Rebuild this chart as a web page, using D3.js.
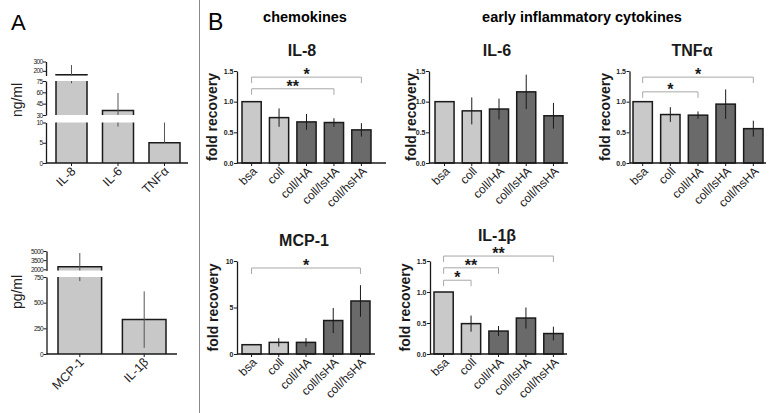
<!DOCTYPE html>
<html><head><meta charset="utf-8">
<script src="https://cdn.jsdelivr.net/npm/d3@7"></script>
<style>
body{margin:0;background:#fff;}
svg{display:block;font-family:"Liberation Sans",Arial,Helvetica,sans-serif;}
</style></head>
<body><svg id="c" width="780" height="413"></svg>
<script>
// ---------- DATA ----------
// Panel A (absolute concentrations)
const aTopCategories = ["IL-8", "IL-6", "TNFα"];
const aTopValues = [157, 36, 5];
const aTopErrHi = [105, 23, 5];
const aTopErrLo = [85, 27, 0];
const aTopTickLabels = [[200, 300], [30, 45, 60, 75], [0, 5, 10]];

const aBotCategories = ["MCP-1", "IL-1β"];
const aBotValues = [2400, 335];
const aBotErrHi = [2270, 275];
const aBotErrLo = [1690, 275];
const aBotTickLabels = [[2000, 3500, 5000], [0, 250, 500, 750]];

// Panel B (fold recovery)
const bCategories = ["bsa", "coll", "coll/HA", "coll/lsHA", "coll/hsHA"];
const il8Values = [1.0, 0.74, 0.67, 0.66, 0.54];
const il8Errors = [0, 0.15, 0.13, 0.07, 0.11];
const il6Values = [1.0, 0.85, 0.88, 1.16, 0.77];
const il6Errors = [0, 0.22, 0.17, 0.28, 0.21];
const tnfValues = [1.0, 0.79, 0.78, 0.96, 0.56];
const tnfErrors = [0, 0.12, 0.06, 0.24, 0.13];
const mcpValues = [1.0, 1.25, 1.25, 3.6, 5.7];
const mcpErrors = [0, 0.45, 0.45, 1.35, 1.7];
const il1bValues = [1.0, 0.49, 0.37, 0.58, 0.33];
const il1bErrors = [0, 0.13, 0.08, 0.17, 0.11];
const foldTicks = [0, 0.5, 1.0, 1.5];
const mcpTicks = [0, 5, 10];
// significance brackets: [fromIndex, toIndex, level, label]
const il8Sig = [[0, 4, 1.40, "*"], [0, 3, 1.21, "**"]];
const tnfSig = [[0, 4, 1.40, "*"], [0, 2, 1.16, "*"]];
const mcpSig = [[0, 4, 9.25, "*"]];
const il1bSig = [[0, 4, 1.58, "**"], [0, 2, 1.39, "**"], [0, 1, 1.19, "*"]];

// ---------- DRAW ----------
const svg = d3.select("#c");
const ink = "#1a1a1a";

svg.append("line").attr("x1", 199.5).attr("x2", 199.5).attr("y1", 0).attr("y2", 413)
  .attr("stroke", "#8a8a8a").attr("stroke-width", 1);

svg.append("text").attr("x", 11).attr("y", 30).attr("font-size", 22).text("A");
svg.append("text").attr("x", 208).attr("y", 30).attr("font-size", 23).text("B");
svg.append("text").attr("x", 305).attr("y", 22).attr("text-anchor", "middle")
  .attr("font-size", 14.5).attr("font-weight", "bold").text("chemokines");
svg.append("text").attr("x", 582).attr("y", 22).attr("text-anchor", "middle")
  .attr("font-size", 14.5).attr("font-weight", "bold").text("early inflammatory cytokines");

// ----- Panel A broken-axis charts -----
function brokenChart(cfg) {
  const g = svg.append("g");
  const x = d3.scaleBand().domain(cfg.categories).range(cfg.xRange).paddingInner(cfg.pad);
  const segs = cfg.segments.map((s, i) => ({
    y: d3.scaleLinear().domain(s.domain).range(s.range), dom: s.domain, ticks: cfg.tickLabels[i]
  }));
  segs.forEach(s => {
    const ax = g.append("g").attr("transform", `translate(${cfg.axisX},0)`)
      .call(d3.axisLeft(s.y).tickValues(s.ticks).tickSize(3).tickSizeOuter(0).tickFormat(d3.format("d")));
    ax.select(".domain").attr("stroke", ink).attr("stroke-width", 1.3);
    ax.selectAll(".tick line").attr("stroke", ink).attr("stroke-width", 1);
    ax.selectAll(".tick text").attr("font-size", 6.5).attr("letter-spacing", -0.6)
      .attr("x", -3.5).attr("fill", ink);
  });
  cfg.values.forEach((v, i) => {
    const x0 = x(cfg.categories[i]), w = x.bandwidth();
    segs.forEach(s => {
      const lo = s.dom[0], hi = s.dom[1];
      if (v <= lo) return;
      const top = Math.min(v, hi);
      const yT = s.y(top), yB = s.y(lo);
      g.append("rect").attr("x", x0).attr("y", yT).attr("width", w).attr("height", Math.max(0, yB - yT))
        .attr("fill", "#c8c8c8");
      const path = d3.path();
      path.moveTo(x0, yB); path.lineTo(x0, yT);
      if (v <= hi) path.lineTo(x0 + w, yT); else path.moveTo(x0 + w, yT);
      path.lineTo(x0 + w, yB);
      g.append("path").attr("d", path.toString()).attr("fill", "none").attr("stroke", ink).attr("stroke-width", 1.5);
    });
    const eHi = v + cfg.errHi[i], eLo = v - cfg.errLo[i];
    const cx = x0 + w / 2;
    segs.forEach(s => {
      const a = Math.max(eLo, s.dom[0]), b = Math.min(eHi, s.dom[1]);
      if (b <= a) return;
      g.append("line").attr("x1", cx).attr("x2", cx).attr("y1", s.y(a)).attr("y2", s.y(b))
        .attr("stroke", "#555").attr("stroke-width", 1);
    });
  });
  const base = segs[segs.length - 1].y(0);
  g.append("line").attr("x1", cfg.axisX).attr("x2", cfg.axisEnd).attr("y1", base).attr("y2", base)
    .attr("stroke", ink).attr("stroke-width", 1.5);
  cfg.categories.forEach(c => {
    const cx = x(c) + x.bandwidth() / 2;
    g.append("line").attr("x1", cx).attr("x2", cx).attr("y1", base).attr("y2", base + 3)
      .attr("stroke", ink).attr("stroke-width", 1);
    g.append("text").attr("transform", `translate(${cx + 5},${base + 9}) rotate(-45)`)
      .attr("text-anchor", "end").attr("font-size", 12.5).attr("fill", "#222").text(c);
  });
  g.append("text").attr("transform", `translate(${cfg.labelX},${cfg.labelY}) rotate(-90)`)
    .attr("text-anchor", "middle").attr("font-size", 14).attr("fill", "#222").text(cfg.unit);
}

brokenChart({
  categories: aTopCategories, values: aTopValues, errHi: aTopErrHi, errLo: aTopErrLo,
  tickLabels: aTopTickLabels,
  segments: [
    { domain: [150, 300], range: [75.5, 61.5] },
    { domain: [30, 75], range: [115, 81] },
    { domain: [0, 10], range: [163, 122.5] }
  ],
  xRange: [56, 180], pad: 0.333, axisX: 46, axisEnd: 188, unit: "ng/ml", labelX: 22, labelY: 100
});
brokenChart({
  categories: aBotCategories, values: aBotValues, errHi: aBotErrHi, errLo: aBotErrLo,
  tickLabels: aBotTickLabels,
  segments: [
    { domain: [1800, 5000], range: [270.5, 251] },
    { domain: [0, 750], range: [354, 277] }
  ],
  xRange: [58, 166], pad: 0.323, axisX: 46.5, axisEnd: 177, unit: "pg/ml", labelX: 22, labelY: 292
});

// ----- Panel B fold-recovery charts -----
const tone = d3.scaleOrdinal().domain(bCategories).range(["#c9c9c9", "#c9c9c9", "#6a6a6a", "#6a6a6a", "#6a6a6a"]);

function foldChart(cfg) {
  const g = svg.append("g");
  const x = d3.scaleBand().domain(bCategories).range([cfg.x0, cfg.x1]).paddingInner(0.3);
  const y = d3.scaleLinear().domain([0, cfg.max]).range([cfg.yBot, cfg.yTop]);
  const ax = g.append("g").attr("transform", `translate(${cfg.axisX},0)`)
    .call(d3.axisLeft(y).tickValues(cfg.ticks).tickSize(3).tickSizeOuter(0).tickFormat(cfg.fmt));
  ax.select(".domain").attr("stroke", ink).attr("stroke-width", 1.3);
  ax.selectAll(".tick line").attr("stroke", ink);
  ax.selectAll(".tick text").attr("font-size", 7).attr("font-weight", "bold").attr("x", -3.5).attr("fill", ink);

  const rows = bCategories.map((c, i) => ({ c, v: cfg.values[i], e: cfg.errors[i] }));
  g.selectAll("rect.bar").data(rows).join("rect").attr("class", "bar")
    .attr("x", d => x(d.c)).attr("width", x.bandwidth())
    .attr("y", d => y(d.v)).attr("height", d => y(0) - y(d.v))
    .attr("fill", d => tone(d.c)).attr("stroke", ink).attr("stroke-width", 1.5);
  g.selectAll("line.err").data(rows.filter(d => d.e > 0)).join("line").attr("class", "err")
    .attr("x1", d => x(d.c) + x.bandwidth() / 2)
    .attr("x2", d => x(d.c) + x.bandwidth() / 2)
    .attr("y1", d => y(d.v + d.e)).attr("y2", d => y(d.v - d.e))
    .attr("stroke", ink).attr("stroke-width", 1);

  const base = y(0);
  g.append("line").attr("x1", cfg.axisX).attr("x2", cfg.axisEnd).attr("y1", base).attr("y2", base)
    .attr("stroke", ink).attr("stroke-width", 1.5);
  bCategories.forEach(c => {
    const cx = x(c) + x.bandwidth() / 2;
    g.append("line").attr("x1", cx).attr("x2", cx).attr("y1", base).attr("y2", base + 3).attr("stroke", ink);
    g.append("text").attr("transform", `translate(${cx + 6},${base + 9}) rotate(-45)`)
      .attr("text-anchor", "end").attr("font-size", 12).attr("fill", "#222").text(c);
  });

  cfg.sig.forEach(([a, b, lvl, lab]) => {
    const xa = x(bCategories[a]) + x.bandwidth() / 2, xb = x(bCategories[b]) + x.bandwidth() / 2;
    const yl = y(lvl);
    g.append("path").attr("d", `M${xa},${yl + 6}V${yl}H${xb}V${yl + 6}`)
      .attr("fill", "none").attr("stroke", "#a8a8a8").attr("stroke-width", 1);
    g.append("text").attr("x", (xa + xb) / 2).attr("y", yl + 3).attr("text-anchor", "middle")
      .attr("font-size", 16).attr("font-weight", "bold").attr("fill", ink).text(lab);
  });

  g.append("text").attr("x", cfg.titleX).attr("y", cfg.titleY).attr("text-anchor", "middle")
    .attr("font-size", 16).attr("font-weight", "bold").attr("fill", ink).text(cfg.title);
  g.append("text").attr("transform", `translate(${cfg.axisX - cfg.labelOff},${(cfg.yTop + cfg.yBot) / 2}) rotate(-90)`)
    .attr("text-anchor", "middle").attr("font-size", 14).attr("font-weight", "bold").attr("fill", ink)
    .text("fold recovery");
}

const f1 = d3.format(".1f"), fd = d3.format("d");
foldChart({ title: "IL-8", values: il8Values, errors: il8Errors, sig: il8Sig, max: 1.5, ticks: foldTicks, fmt: f1,
  axisX: 237, x0: 242, x1: 371, axisEnd: 386, yTop: 71, yBot: 163, titleX: 302, titleY: 56, labelOff: 20 });
foldChart({ title: "IL-6", values: il6Values, errors: il6Errors, sig: [], max: 1.5, ticks: foldTicks, fmt: f1,
  axisX: 429, x0: 435, x1: 563, axisEnd: 568, yTop: 71, yBot: 163, titleX: 497, titleY: 56, labelOff: 13 });
foldChart({ title: "TNFα", values: tnfValues, errors: tnfErrors, sig: tnfSig, max: 1.5, ticks: foldTicks, fmt: f1,
  axisX: 629.5, x0: 633, x1: 763, axisEnd: 766, yTop: 71, yBot: 163, titleX: 692, titleY: 56, labelOff: 20 });
foldChart({ title: "MCP-1", values: mcpValues, errors: mcpErrors, sig: mcpSig, max: 10, ticks: mcpTicks, fmt: fd,
  axisX: 237, x0: 242, x1: 370, axisEnd: 375, yTop: 261, yBot: 354, titleX: 304, titleY: 246, labelOff: 19 });
foldChart({ title: "IL-1β", values: il1bValues, errors: il1bErrors, sig: il1bSig, max: 1.5, ticks: foldTicks, fmt: f1,
  axisX: 430, x0: 434, x1: 563, axisEnd: 567, yTop: 261, yBot: 354, titleX: 497, titleY: 241, labelOff: 20 });
</script>
</body></html>
